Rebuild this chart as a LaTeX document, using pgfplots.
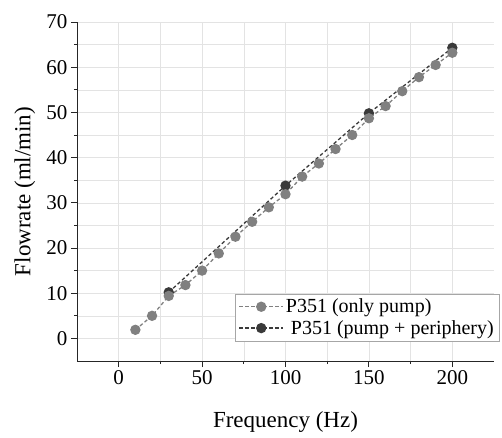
\documentclass[border=0pt]{standalone}
\usepackage{fontspec}
\setmainfont{Liberation Serif}
\usepackage{pgfplots}
\pgfplotsset{compat=1.18}
\definecolor{pgray}{HTML}{808080}
\definecolor{pdark}{HTML}{3A3A3A}
\definecolor{gridc}{HTML}{E3E3E3}
\begin{document}
\begin{tikzpicture}
\useasboundingbox (-77pt,-76pt) rectangle (425pt,361pt);
\begin{axis}[
  scale only axis,
  width=417pt, height=339pt,
  xmin=-25, xmax=225, ymin=-5, ymax=70,
  xtick={0,50,100,150,200}, ytick={0,10,...,70},
  minor x tick num=1, minor y tick num=1,
  grid=both,
  major grid style={gridc, line width=0.6pt},
  minor grid style={gridc, line width=0.6pt},
  axis lines*=left,
  axis line style={line width=0.9pt, black!85},
  tick style={line width=0.9pt, black!85},
  tick align=outside,
  major tick length=6pt, minor tick length=3pt,
  /pgf/number format/assume math mode=true,
  tick label style={font=\fontsize{21}{24}\selectfont},
  xlabel={Frequency (Hz)}, ylabel={Flowrate (ml/min)},
  label style={font=\fontsize{23}{26}\selectfont},
  xlabel style={at={(axis description cs:0.5,-0.18)}, anchor=center},
  ylabel style={at={(axis description cs:-0.125,0.5)}, anchor=center, rotate=0},
  legend style={at={(rel axis cs:1.012,0.059)}, anchor=south east,
    draw=black!35, fill=white, font=\fontsize{20}{23}\selectfont,
    row sep=2pt, inner sep=3pt},
  legend cell align=left,
  legend image code/.code={
    \draw[mark repeat=2,mark phase=2,#1] plot coordinates {(0pt,0pt) (22pt,0pt) (44pt,0pt)};
  },
]
\addlegendimage{pgray, dash pattern=on 3.5pt off 2.5pt, line width=1.3pt, mark=*, mark size=4.5pt, mark options={solid, draw=pgray, fill=pgray}}
\addlegendentry{P351 (only pump)}
\addlegendimage{pdark, dash pattern=on 3.5pt off 2.5pt, line width=1.3pt, mark=*, mark size=4.5pt, mark options={solid, draw=pdark, fill=pdark}}
\addlegendentry{\ P351 (pump + periphery)}
\addplot[forget plot, pdark, dash pattern=on 3.5pt off 2.5pt, line width=1.3pt, mark=*, mark size=4.5pt, mark options={solid, draw=pdark, fill=pdark}]
coordinates {(30,10.2) (100,33.8) (150,49.8) (200,64.3)};
\addplot[forget plot, pgray, dash pattern=on 3.5pt off 2.5pt, line width=1.3pt, mark=*, mark size=4.5pt, mark options={solid, draw=pgray, fill=pgray}]
coordinates {(10,1.9) (20,5.0) (30,9.4) (40,11.8) (50,15.0) (60,18.8) (70,22.5) (80,25.8) (90,29.0) (100,31.9) (110,35.8) (120,38.7) (130,41.9) (140,45.0) (150,48.7) (160,51.4) (170,54.7) (180,57.8) (190,60.5) (200,63.2)};
\end{axis}
\end{tikzpicture}
\end{document}
